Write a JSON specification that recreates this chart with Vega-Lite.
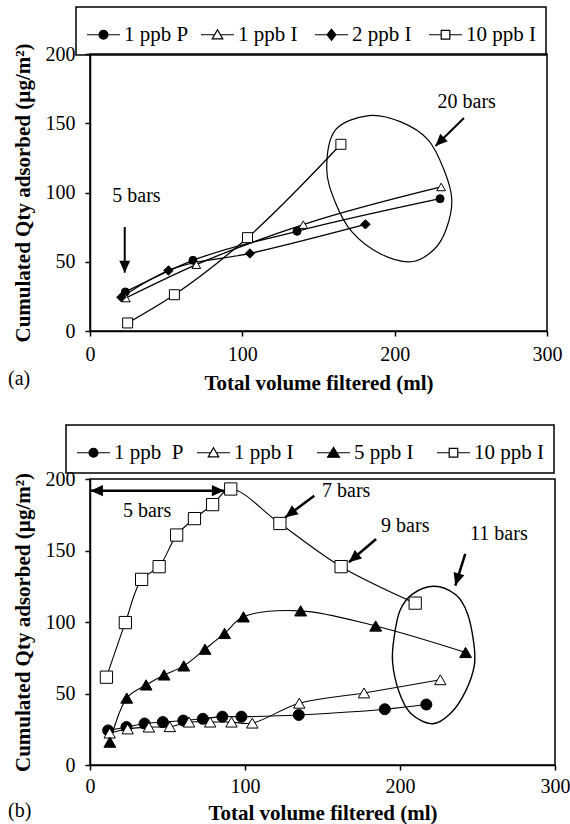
{
  "$schema": "https://vega.github.io/schema/vega-lite/v6.json",
  "padding": {"left": 7, "top": 5, "right": 0, "bottom": 0},
  "background": "white",
  "bounds": "flush",
  "spacing": 148,
  "config": {
    "view": {"stroke": "black", "strokeWidth": 1.5},
    "font": "Liberation Serif, Times New Roman, Times, serif",
    "axis": {"grid": false, "domainColor": "black", "domainWidth": 1.5, "tickColor": "black", "tickWidth": 1.5, "tickSize": 5,
      "labelFont": "Liberation Serif, Times New Roman, Times, serif", "labelFontSize": 20, "labelColor": "black",
      "titleFont": "Liberation Serif, Times New Roman, Times, serif", "titleFontSize": 21, "titleFontWeight": "bold", "titleColor": "black"},
    "axisX": {"labelFlush": false, "labelPadding": 8, "titlePadding": 8},
    "axisY": {"labelPadding": 10, "titlePadding": 12},
    "legend": {"labelFont": "Liberation Serif, Times New Roman, Times, serif", "labelFontSize": 21, "labelColor": "black", "strokeColor": "black", "strokeWidth": 1.5,
      "padding": 10, "symbolSize": 1089, "labelOffset": 3, "gridAlign": "all", "symbolStrokeWidth": 1.2, "symbolStrokeColor": "black", "symbolOpacity": 1},
    "title": {"font": "Liberation Serif, Times New Roman, Times, serif", "fontSize": 20, "fontWeight": "normal", "color": "black"}
  },
  "resolve": {
    "scale": {"x": "independent", "y": "independent", "shape": "independent", "fill": "independent", "stroke": "independent", "size": "independent"},
    "legend": {"shape": "independent", "fill": "independent", "stroke": "independent", "size": "independent"}
  },
  "datasets": {
    "a_legend": [{"s": "1 ppb P"}, {"s": "1 ppb I"}, {"s": "2 ppb I"}, {"s": "10 ppb I"}],
    "a_series": [
      {"s": "1 ppb P", "x": 23.2, "y": 28.2}, {"s": "1 ppb P", "x": 67.6, "y": 51}, {"s": "1 ppb P", "x": 135.9, "y": 72}, {"s": "1 ppb P", "x": 229.8, "y": 95.5},
      {"s": "1 ppb I", "x": 23.5, "y": 23.8}, {"s": "1 ppb I", "x": 69.8, "y": 47.9}, {"s": "1 ppb I", "x": 140, "y": 76.8}, {"s": "1 ppb I", "x": 230.5, "y": 104},
      {"s": "2 ppb I", "x": 20.6, "y": 24.4}, {"s": "2 ppb I", "x": 51.5, "y": 43.7}, {"s": "2 ppb I", "x": 105, "y": 56}, {"s": "2 ppb I", "x": 180.8, "y": 77},
      {"s": "10 ppb I", "x": 24.7, "y": 5.8}, {"s": "10 ppb I", "x": 55.4, "y": 26.2}, {"s": "10 ppb I", "x": 103.4, "y": 67.4}, {"s": "10 ppb I", "x": 164.7, "y": 134.8}
    ],
    "a_ellipse": [
      {"i": 0, "x": 182.8, "y": 155.5}, {"i": 1, "x": 204, "y": 151}, {"i": 2, "x": 222, "y": 138}, {"i": 3, "x": 232.5, "y": 116},
      {"i": 4, "x": 237.5, "y": 95}, {"i": 5, "x": 234, "y": 74}, {"i": 6, "x": 226, "y": 59}, {"i": 7, "x": 211, "y": 50},
      {"i": 8, "x": 190.5, "y": 55.8}, {"i": 9, "x": 172, "y": 71.5}, {"i": 10, "x": 161, "y": 93}, {"i": 11, "x": 155.4, "y": 117}, {"i": 12, "x": 161, "y": 145}
    ],
    "a_rules": [
      {"x": 22.8, "y": 75.1, "x2": 22.8, "y2": 42.1},
      {"x": 245.5, "y": 153.8, "x2": 226.8, "y2": 133.6}
    ],
    "a_heads": [
      {"x": 22.8, "y": 42.1, "angle": 180},
      {"x": 226.8, "y": 133.6, "angle": 225}
    ],
    "a_text": [
      {"x": 30.5, "y": 97.5, "t": "5 bars"},
      {"x": 247.3, "y": 165.3, "t": "20 bars"}
    ],
    "b_legend": [{"s": "1 ppb\u00a0 P"}, {"s": "1 ppb I"}, {"s": "5 ppb I"}, {"s": "10 ppb I"}],
    "b_series": [
      {"s": "1 ppb\u00a0 P", "x": 11.7, "y": 24.2}, {"s": "1 ppb\u00a0 P", "x": 23.5, "y": 26.5}, {"s": "1 ppb\u00a0 P", "x": 35.2, "y": 29}, {"s": "1 ppb\u00a0 P", "x": 47, "y": 30},
      {"s": "1 ppb\u00a0 P", "x": 60.2, "y": 31.1}, {"s": "1 ppb\u00a0 P", "x": 72.8, "y": 32.3}, {"s": "1 ppb\u00a0 P", "x": 85.4, "y": 33.8}, {"s": "1 ppb\u00a0 P", "x": 97.7, "y": 33.8},
      {"s": "1 ppb\u00a0 P", "x": 134.7, "y": 35}, {"s": "1 ppb\u00a0 P", "x": 190.2, "y": 39}, {"s": "1 ppb\u00a0 P", "x": 217, "y": 42.3},
      {"s": "1 ppb I", "x": 12.7, "y": 22.3}, {"s": "1 ppb I", "x": 24.3, "y": 25.2}, {"s": "1 ppb I", "x": 38, "y": 26.5}, {"s": "1 ppb I", "x": 51.5, "y": 26.8},
      {"s": "1 ppb I", "x": 63.9, "y": 30}, {"s": "1 ppb I", "x": 77.5, "y": 30}, {"s": "1 ppb I", "x": 91.3, "y": 30}, {"s": "1 ppb I", "x": 104.7, "y": 29.3},
      {"s": "1 ppb I", "x": 135, "y": 43.2}, {"s": "1 ppb I", "x": 176.8, "y": 50.4}, {"s": "1 ppb I", "x": 226, "y": 59.6},
      {"s": "5 ppb I", "x": 12.8, "y": 16}, {"s": "5 ppb I", "x": 23.7, "y": 46.8}, {"s": "5 ppb I", "x": 36.2, "y": 56}, {"s": "5 ppb I", "x": 47.8, "y": 63},
      {"s": "5 ppb I", "x": 60.5, "y": 69.3}, {"s": "5 ppb I", "x": 74.2, "y": 81}, {"s": "5 ppb I", "x": 86.8, "y": 92}, {"s": "5 ppb I", "x": 99, "y": 103.6},
      {"s": "5 ppb I", "x": 135.9, "y": 107.8}, {"s": "5 ppb I", "x": 184.3, "y": 97.2}, {"s": "5 ppb I", "x": 242.3, "y": 78.7},
      {"s": "10 ppb I", "x": 10.6, "y": 61.4}, {"s": "10 ppb I", "x": 22.8, "y": 99.6}, {"s": "10 ppb I", "x": 33.3, "y": 129.8}, {"s": "10 ppb I", "x": 44.6, "y": 138.7},
      {"s": "10 ppb I", "x": 55.9, "y": 160.8}, {"s": "10 ppb I", "x": 67.4, "y": 172.3}, {"s": "10 ppb I", "x": 79.1, "y": 182.1}, {"s": "10 ppb I", "x": 90.8, "y": 193},
      {"s": "10 ppb I", "x": 122.5, "y": 168.9}, {"s": "10 ppb I", "x": 162, "y": 138.7}, {"s": "10 ppb I", "x": 209.8, "y": 113.2}
    ],
    "b_ellipse": [
      {"i": 0, "x": 222, "y": 125}, {"i": 1, "x": 236, "y": 119}, {"i": 2, "x": 243.5, "y": 106}, {"i": 3, "x": 247.5, "y": 86},
      {"i": 4, "x": 248, "y": 70}, {"i": 5, "x": 242.5, "y": 52}, {"i": 6, "x": 233, "y": 36.5}, {"i": 7, "x": 221, "y": 28.8},
      {"i": 8, "x": 207, "y": 36}, {"i": 9, "x": 199.4, "y": 51}, {"i": 10, "x": 195.2, "y": 72}, {"i": 11, "x": 196.3, "y": 90},
      {"i": 12, "x": 200, "y": 108}, {"i": 13, "x": 208, "y": 119.5}
    ],
    "b_rules": [
      {"x": 0.3, "y": 191.8, "x2": 86.7, "y2": 191.8},
      {"x": 144.7, "y": 188.3, "x2": 126, "y2": 173.2},
      {"x": 184.6, "y": 158, "x2": 167, "y2": 141.8},
      {"x": 242.1, "y": 147.6, "x2": 235.7, "y2": 125.5}
    ],
    "b_heads": [
      {"x": 0.3, "y": 191.8, "angle": 270},
      {"x": 86.7, "y": 191.8, "angle": 90},
      {"x": 126, "y": 173.2, "angle": 233},
      {"x": 167, "y": 141.8, "angle": 230},
      {"x": 235.7, "y": 125.5, "angle": 197}
    ],
    "b_text": [
      {"x": 36.8, "y": 177.4, "t": "5 bars"},
      {"x": 165.3, "y": 191.8, "t": "7 bars"},
      {"x": 203.4, "y": 167.4, "t": "9 bars"},
      {"x": 263.8, "y": 161.5, "t": "11 bars"}
    ]
  },
  "vconcat": [
    {
      "width": 457,
      "height": 277,
      "title": {"text": "(a)", "orient": "bottom", "anchor": "start", "frame": "group", "dx": -82, "dy": -28},
      "resolve": {
        "scale": {"shape": "independent", "fill": "independent", "stroke": "independent", "size": "independent"},
        "legend": {"shape": "independent", "fill": "independent", "stroke": "independent", "size": "independent"}
      },
      "encoding": {
        "x": {"field": "x", "type": "quantitative", "scale": {"domain": [0, 300], "nice": false}, "axis": {"values": [0, 100, 200, 300]}, "title": "Total volume filtered (ml)"},
        "y": {"field": "y", "type": "quantitative", "scale": {"domain": [0, 200], "nice": false}, "axis": {"values": [0, 50, 100, 150, 200]}, "title": "Cumulated Qty adsorbed (µg/m²)"}
      },
      "layer": [
        {"data": {"name": "a_ellipse"}, "mark": {"type": "line", "interpolate": "cardinal-closed", "stroke": "black", "strokeWidth": 1.2}, "encoding": {"order": {"field": "i", "type": "quantitative"}}},
        {"data": {"name": "a_series"}, "mark": {"type": "line", "interpolate": "monotone", "stroke": "black", "strokeWidth": 1.3}, "encoding": {"detail": {"field": "s"}}},
        {"data": {"name": "a_series"}, "mark": {"type": "point", "filled": true, "stroke": "black", "strokeWidth": 1, "opacity": 1},
          "encoding": {
            "shape": {"field": "s", "type": "nominal", "scale": {"domain": ["1 ppb P", "1 ppb I", "2 ppb I", "10 ppb I"], "range": ["circle", "triangle-up", "diamond", "square"]}, "legend": null},
            "fill": {"field": "s", "type": "nominal", "scale": {"domain": ["1 ppb P", "1 ppb I", "2 ppb I", "10 ppb I"], "range": ["black", "white", "black", "white"]}, "legend": null},
            "size": {"field": "s", "type": "nominal", "scale": {"domain": ["1 ppb P", "1 ppb I", "2 ppb I", "10 ppb I"], "range": [64, 100, 100, 81]}, "legend": null}
          }},
        {"data": {"name": "a_legend"}, "mark": {"type": "point", "filled": true, "strokeWidth": 1.2},
          "encoding": {
            "shape": {"field": "s", "type": "nominal", "scale": {"domain": ["1 ppb P", "1 ppb I", "2 ppb I", "10 ppb I"],
                "range": ["M-1,0H1M-0.27,0A0.27,0.27 0 1,1 0.27,0A0.27,0.27 0 1,1 -0.27,0Z", "M-1,0H-0.175M0.175,0H1M0,-0.3L0.32,0.25L-0.32,0.25Z", "M-1,0H1M0,-0.33L0.27,0L0,0.33L-0.27,0Z", "M-1,0H-0.26M0.26,0H1M-0.26,-0.26H0.26V0.26H-0.26Z"]},
              "legend": {"title": null, "orient": "none", "legendX": -14, "legendY": -47, "direction": "horizontal", "columns": 4, "columnPadding": 4}},
            "fill": {"field": "s", "type": "nominal", "scale": {"domain": ["1 ppb P", "1 ppb I", "2 ppb I", "10 ppb I"], "range": ["black", "white", "black", "white"]},
              "legend": {"title": null, "orient": "none", "legendX": -14, "legendY": -47, "direction": "horizontal", "columns": 4, "columnPadding": 4}},
            "stroke": {"field": "s", "type": "nominal", "scale": {"domain": ["1 ppb P", "1 ppb I", "2 ppb I", "10 ppb I"], "range": ["black", "black", "black", "black"]},
              "legend": {"title": null, "orient": "none", "legendX": -14, "legendY": -47, "direction": "horizontal", "columns": 4, "columnPadding": 4}}
          }},
        {"data": {"name": "a_rules"}, "mark": {"type": "rule", "stroke": "black", "strokeWidth": 2}, "encoding": {"x2": {"field": "x2"}, "y2": {"field": "y2"}}},
        {"data": {"name": "a_heads"}, "mark": {"type": "point", "shape": "M0,0L-0.45,1L0.45,1Z", "filled": true, "fill": "black", "size": 576, "opacity": 1}, "encoding": {"angle": {"field": "angle", "type": "quantitative", "scale": null}}},
        {"data": {"name": "a_text"}, "mark": {"type": "text", "fontSize": 20, "font": "Liberation Serif, Times New Roman, Times, serif", "color": "black", "baseline": "middle"}, "encoding": {"text": {"field": "t"}}}
      ]
    },
    {
      "width": 465,
      "height": 286,
      "title": {"text": "(b)", "orient": "bottom", "anchor": "start", "frame": "group", "dx": -82, "dy": -26},
      "resolve": {
        "scale": {"shape": "independent", "fill": "independent", "stroke": "independent", "size": "independent"},
        "legend": {"shape": "independent", "fill": "independent", "stroke": "independent", "size": "independent"}
      },
      "encoding": {
        "x": {"field": "x", "type": "quantitative", "scale": {"domain": [0, 300], "nice": false}, "axis": {"values": [0, 100, 200, 300], "labelPadding": 6, "titlePadding": 6}, "title": "Total volume filtered (ml)"},
        "y": {"field": "y", "type": "quantitative", "scale": {"domain": [0, 200], "nice": false}, "axis": {"values": [0, 50, 100, 150, 200]}, "title": "Cumulated Qty adsorbed (µg/m²)"}
      },
      "layer": [
        {"data": {"name": "b_ellipse"}, "mark": {"type": "line", "interpolate": "cardinal-closed", "stroke": "black", "strokeWidth": 1.4}, "encoding": {"order": {"field": "i", "type": "quantitative"}}},
        {"data": {"name": "b_series"}, "mark": {"type": "line", "interpolate": "catmull-rom", "stroke": "black", "strokeWidth": 1.1}, "encoding": {"detail": {"field": "s"}}},
        {"data": {"name": "b_series"}, "mark": {"type": "point", "filled": true, "stroke": "black", "strokeWidth": 1, "opacity": 1},
          "encoding": {
            "shape": {"field": "s", "type": "nominal", "scale": {"domain": ["1 ppb\u00a0 P", "1 ppb I", "5 ppb I", "10 ppb I"], "range": ["circle", "triangle-up", "triangle-up", "square"]}, "legend": null},
            "fill": {"field": "s", "type": "nominal", "scale": {"domain": ["1 ppb\u00a0 P", "1 ppb I", "5 ppb I", "10 ppb I"], "range": ["black", "white", "black", "white"]}, "legend": null},
            "size": {"field": "s", "type": "nominal", "scale": {"domain": ["1 ppb\u00a0 P", "1 ppb I", "5 ppb I", "10 ppb I"], "range": [121, 150, 170, 121]}, "legend": null}
          }},
        {"data": {"name": "b_legend"}, "mark": {"type": "point", "filled": true, "strokeWidth": 1.2},
          "encoding": {
            "shape": {"field": "s", "type": "nominal", "scale": {"domain": ["1 ppb\u00a0 P", "1 ppb I", "5 ppb I", "10 ppb I"],
                "range": ["M-1,0H1M-0.27,0A0.27,0.27 0 1,1 0.27,0A0.27,0.27 0 1,1 -0.27,0Z", "M-1,0H-0.175M0.175,0H1M0,-0.3L0.32,0.25L-0.32,0.25Z", "M-1,0H1M0,-0.33L0.36,0.27L-0.36,0.27Z", "M-1,0H-0.26M0.26,0H1M-0.26,-0.26H0.26V0.26H-0.26Z"]},
              "legend": {"title": null, "orient": "none", "legendX": -24, "legendY": -54, "direction": "horizontal", "columns": 4, "columnPadding": 10}},
            "fill": {"field": "s", "type": "nominal", "scale": {"domain": ["1 ppb\u00a0 P", "1 ppb I", "5 ppb I", "10 ppb I"], "range": ["black", "white", "black", "white"]},
              "legend": {"title": null, "orient": "none", "legendX": -24, "legendY": -54, "direction": "horizontal", "columns": 4, "columnPadding": 10}},
            "stroke": {"field": "s", "type": "nominal", "scale": {"domain": ["1 ppb\u00a0 P", "1 ppb I", "5 ppb I", "10 ppb I"], "range": ["black", "black", "black", "black"]},
              "legend": {"title": null, "orient": "none", "legendX": -24, "legendY": -54, "direction": "horizontal", "columns": 4, "columnPadding": 10}}
          }},
        {"data": {"name": "b_rules"}, "mark": {"type": "rule", "stroke": "black", "strokeWidth": 2.5}, "encoding": {"x2": {"field": "x2"}, "y2": {"field": "y2"}}},
        {"data": {"name": "b_heads"}, "mark": {"type": "point", "shape": "M0,0L-0.45,1L0.45,1Z", "filled": true, "fill": "black", "size": 625, "opacity": 1}, "encoding": {"angle": {"field": "angle", "type": "quantitative", "scale": null}}},
        {"data": {"name": "b_text"}, "mark": {"type": "text", "fontSize": 20, "font": "Liberation Serif, Times New Roman, Times, serif", "color": "black", "baseline": "middle"}, "encoding": {"text": {"field": "t"}}}
      ]
    }
  ]
}
